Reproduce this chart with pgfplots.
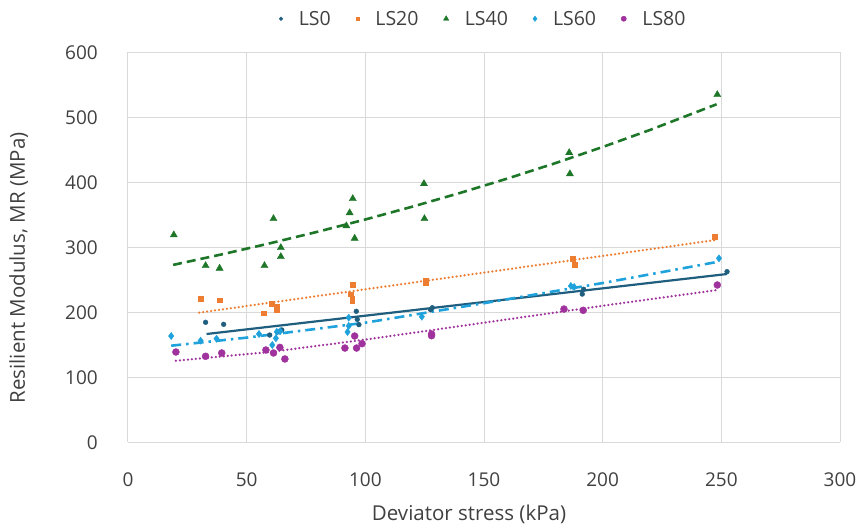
\documentclass[border=0pt]{standalone}
\usepackage{fontspec}
\setmainfont{Open Sans}
\usepackage{pgfplots}
\pgfplotsset{compat=1.18}
\definecolor{cA}{HTML}{1F5E7E}
\definecolor{cB}{HTML}{ED7D31}
\definecolor{cC}{HTML}{1E7628}
\definecolor{cD}{HTML}{1FA2DB}
\definecolor{cE}{HTML}{A0329D}
\definecolor{gridc}{HTML}{D9D9D9}
\definecolor{txt}{HTML}{404040}
\begin{document}
\begin{tikzpicture}
\begin{axis}[
  width=712pt, height=390pt, scale only axis,
  xmin=0, xmax=300, ymin=0, ymax=600,
  xtick={0,50,...,300}, ytick={0,100,...,600},
  grid=major, grid style={draw=gridc, line width=1pt},
  axis line style={draw=none}, major tick length=0pt,
  /pgf/number format/assume math mode=true,
  tick label style={font=\fontsize{19}{22}\selectfont, text=txt, inner sep=0pt},
  xticklabel style={anchor=north},
  yticklabel style={anchor=east},
  xticklabel shift=30pt,
  yticklabel shift=30pt,
  clip=false,
  legend columns=-1,
  legend style={at={(rel axis cs:0.2121,1.086)}, anchor=west, draw=none, fill=none, inner sep=0pt,
    font=\fontsize{19.5}{22}\selectfont, text=txt, nodes={inner sep=1pt},
    /tikz/every odd column/.style={column sep=15pt},
    /tikz/every even column/.style={column sep=24pt}},
  legend image code/.code={\draw[#1, mark options={scale=0.75}] plot coordinates {(0pt,0pt)};},
]
% LS0
\addplot[only marks, mark=*, mark size=2.4pt, color=cA] coordinates {
(32.7,184.6) (40.3,181.5) (59.7,165) (63.6,170) (64.8,172.8) (96.2,201.5) (96.6,189) (97.3,181)
(127.5,204) (128.2,207) (191.4,228) (192,235.4) (252.4,262.5)};
\addlegendentry{LS0}
% LS20
\addplot[only marks, mark=square*, mark size=2.4pt, color=cB] coordinates {
(30.6,221.5) (38.6,218.5) (57.2,198.5) (60.6,212.8) (62.8,208.6) (62.8,204.6) (93.8,227.7)
(94.5,221.5) (94.5,217.4) (94.7,243) (125.5,245) (125.5,248) (187.5,283) (188.3,273.8) (247.2,316.3)};
\addlegendentry{LS20}
% LS40
\addplot[only marks, mark=triangle*, mark size=4.1pt, color=cC] coordinates {
(19.3,319) (32.7,271.7) (38.6,267.7) (57.5,271.7) (61.3,344) (64.4,299.4) (64.4,285.6) (92,333)
(93.4,353) (94.7,374.8) (95.5,313.8) (124.7,397.8) (124.9,344) (185.9,445.5) (186.2,413) (248.3,534.8)};
\addlegendentry{LS40}
% LS60
\addplot[only marks, mark=diamond*, mark size=3.6pt, color=cD] coordinates {
(18.2,163.5) (30.6,156.3) (37.3,159.4) (55.2,166.6) (60.8,149.7) (62.3,160) (62.7,170) (64.1,171)
(92.5,169.7) (93,179) (93,191.7) (123.8,193.2) (186.6,240.5) (188,239) (249,283)};
\addlegendentry{LS60}
% LS80
\addplot[only marks, mark=*, mark size=3.5pt, color=cE] coordinates {
(20.2,138.9) (32.7,132.3) (39.5,137.4) (58.1,142) (61.3,137.4) (64,146) (66.1,128.2) (91.4,145)
(95.5,163.5) (96.3,145) (98.6,151.7) (127.9,164) (127.9,166.6) (183.7,205) (191.8,203) (248.3,242)};
\addlegendentry{LS80}
% trendlines
\addplot[forget plot, no marks, color=cA, line width=2.2pt] coordinates {(33.1,166.6) (252.4,258.9)};
\addplot[forget plot, no marks, color=cB, line width=2.5pt, line cap=round, dash pattern=on 0pt off 4pt] coordinates {(30,199.4) (247.2,311)};
\addplot[forget plot, no marks, color=cC, line width=2.6pt, dash pattern=on 9pt off 5pt] coordinates {
(19,272.9) (40,289.5) (60,306.3) (80,324.0) (100,342.8) (120,362.7) (140,383.7) (160,405.9) (180,429.4) (200,454.3) (220,480.6) (248,520.0)};
\addplot[forget plot, no marks, color=cD, line width=2.6pt, dash pattern=on 10pt off 5pt on 2.5pt off 5pt] coordinates {
(18.2,148.6) (50,161) (100,184) (150,214) (200,245) (249,278)};
\addplot[forget plot, no marks, color=cE, line width=2.5pt, line cap=round, dash pattern=on 0pt off 4pt] coordinates {
(20.2,125.5) (60,139) (100,158) (150,184) (200,210) (248.3,234.3)};
\node[rotate=90, anchor=base, font=\fontsize{20.5}{24}\selectfont, text=txt] at (rel axis cs:-0.1447,0.447) {Resilient Modulus, MR (MPa)};
\node[anchor=base, font=\fontsize{20.5}{24}\selectfont, text=txt] at (rel axis cs:0.479,-0.2018) {Deviator stress (kPa)};
\coordinate (sw) at (rel axis cs:0,0);
\coordinate (ne) at (rel axis cs:1,1);
\end{axis}
\pgfresetboundingbox
\path ([shift={(-128pt,-88.7pt)}]sw) rectangle ([shift={(24pt,52.3pt)}]ne);
\end{tikzpicture}
\end{document}
